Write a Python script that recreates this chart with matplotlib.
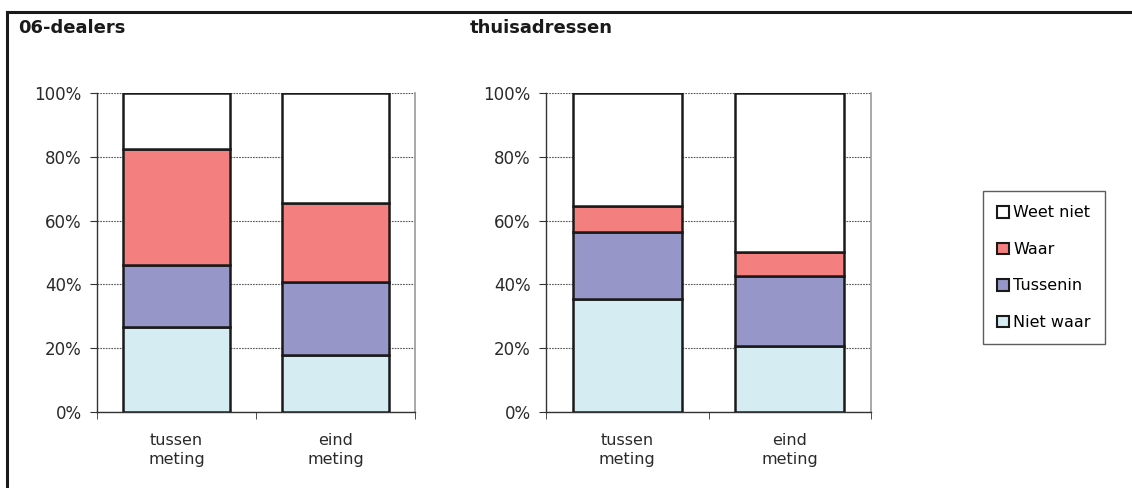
import numpy as np
import matplotlib
matplotlib.use('Agg')
import matplotlib.pyplot as plt
from matplotlib.patches import Patch
from matplotlib.lines import Line2D

# ---------------------------------------------------------------------------
# Data (percentages)
# ---------------------------------------------------------------------------
categories = ['tussen\nmeting', 'eind\nmeting']
series = ['Niet waar', 'Tussenin', 'Waar', 'Weet niet']

dealers_niet_waar = [26.7, 17.8]
dealers_tussenin = [19.3, 22.9]
dealers_waar = [36.4, 24.7]
dealers_weet_niet = [17.6, 34.6]

thuis_niet_waar = [35.3, 20.7]
thuis_tussenin = [21.0, 22.0]
thuis_waar = [8.4, 7.6]
thuis_weet_niet = [35.3, 49.7]

panel_titles = ['06-dealers', 'thuisadressen']
y_ticks = [0, 20, 40, 60, 80, 100]

_COLORS = ['#d4ecf2', '#9696c8', '#f47f7f', '#ffffff']
_FONT = 'DejaVu Sans'

W, H = 1132, 488
fig = plt.figure(figsize=(W / 100, H / 100), dpi=100)
fig.patch.set_facecolor('white')


def _fx(px):
    return px / W


def _fy(px):
    return 1 - px / H


# outer frame (open on right and bottom, like the cropped original)
fig.add_artist(Line2D([_fx(7), _fx(7)], [_fy(12), 0], color='#1a1a1a', lw=2.2))
fig.add_artist(Line2D([_fx(7), 1], [_fy(12), _fy(12)], color='#1a1a1a', lw=2.2))


def _draw_panel(ax, stacks):
    x = np.arange(len(categories))
    bottom = np.zeros(len(categories))
    for vals, color in zip(stacks, _COLORS):
        ax.bar(x, vals, width=0.67, bottom=bottom, color=color,
               edgecolor='#1a1a1a', linewidth=1.8, zorder=3)
        bottom += np.array(vals)

    ax.set_xlim(-0.5, len(categories) - 0.5)
    ax.set_ylim(0, 100)
    ax.set_yticks(y_ticks)
    ax.set_yticklabels([f'{t}%' for t in y_ticks], fontsize=12, family=_FONT, color='#2a2a2a')
    ax.set_xticks(x)
    ax.set_xticklabels(categories, fontsize=11.5, family=_FONT, color='#2a2a2a', linespacing=1.35)
    ax.tick_params(axis='x', which='major', length=0, pad=15)
    ax.set_xticks(np.arange(-0.5, len(categories)), minor=True)
    ax.tick_params(axis='x', which='minor', length=5, direction='out', color='#333333')
    ax.tick_params(axis='y', length=5, direction='out', color='#333333', pad=6)

    ax.grid(axis='y', color='#555555', linestyle=(0, (1.5, 1)), linewidth=0.8, zorder=0)
    for s in ['left', 'bottom']:
        ax.spines[s].set_color('#333333')
        ax.spines[s].set_linewidth(1.0)
    ax.spines['right'].set_color('#999999')
    ax.spines['right'].set_linewidth(1.2)
    ax.spines['top'].set_visible(False)


ax1 = fig.add_axes([_fx(97), _fy(412), _fx(318), (412 - 93) / H])
_draw_panel(ax1, [dealers_niet_waar, dealers_tussenin, dealers_waar, dealers_weet_niet])

ax2 = fig.add_axes([_fx(546), _fy(412), _fx(325), (412 - 93) / H])
_draw_panel(ax2, [thuis_niet_waar, thuis_tussenin, thuis_waar, thuis_weet_niet])

fig.text(_fx(18), _fy(28), panel_titles[0], fontsize=13, fontweight='bold',
         family=_FONT, va='center', ha='left', color='#1a1a1a')
fig.text(_fx(470), _fy(28), panel_titles[1], fontsize=13, fontweight='bold',
         family=_FONT, va='center', ha='left', color='#1a1a1a')

# legend: reversed order (top = Weet niet)
handles = [Patch(facecolor=c, edgecolor='#1a1a1a', linewidth=1.5, label=s)
           for s, c in zip(series, _COLORS)][::-1]
leg = fig.legend(handles=handles, loc='upper left',
                 bbox_to_anchor=(_fx(983), _fy(191)),
                 frameon=True, fancybox=False, edgecolor='#333333',
                 handlelength=0.75, handleheight=0.75, handletextpad=0.25,
                 labelspacing=1.35, borderpad=0.9, borderaxespad=0,
                 prop={'family': _FONT, 'size': 11.5})
leg.get_frame().set_linewidth(1.0)

fig.savefig('out.png', dpi=100, facecolor='white')
